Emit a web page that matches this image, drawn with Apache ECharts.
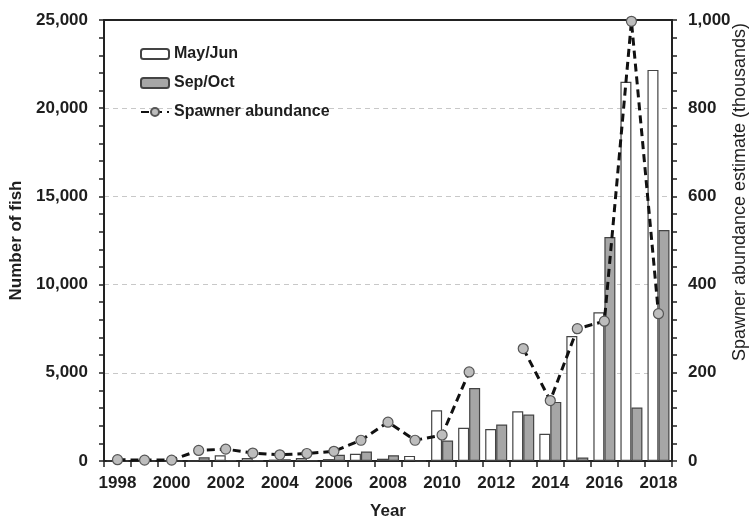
<!DOCTYPE html>
<html>
<head>
<meta charset="utf-8">
<script src="https://cdn.jsdelivr.net/npm/echarts@6/dist/echarts.min.js"></script>
<style>html,body{margin:0;padding:0;background:#fff}#c{width:749px;height:525px}</style>
</head>
<body>
<div id="c"></div>
<script>
var years = ['1998','1999','2000','2001','2002','2003','2004','2005','2006','2007','2008','2009','2010','2011','2012','2013','2014','2015','2016','2017','2018'];
var mayJun = [0,0,0,0,320,170,80,170,110,410,130,290,2870,1880,1810,2820,1540,7090,8430,21500,22170];
var sepOct = [0,0,0,210,50,50,100,30,350,540,330,0,1160,4140,2070,2630,3350,200,12700,3030,13090];
var spawner = [3,2,2,24,27,18,14,17,22,47,88,47,59,202,null,255,137,300,317,997,334];
var leftTicks = {min:0, max:25000, interval:5000};
var rightTicks = {min:0, max:1000, interval:200};

var FONT = 'Liberation Sans';
var TXT = '#1e1e1e';
var chart = echarts.init(document.getElementById('c'), null, {renderer:'canvas'});
chart.setOption({
  animation:false,
  backgroundColor:'#fff',
  textStyle:{fontFamily:FONT},
  grid:{left:104, right:77, top:20, bottom:62, containLabel:false},
  legend:{
    orient:'vertical', left:135, top:41, itemWidth:28, itemHeight:10, itemGap:13,
    textStyle:{fontFamily:FONT, fontWeight:'bold', fontSize:16, color:TXT},
    data:['May/Jun','Sep/Oct','Spawner abundance']
  },
  xAxis:[{
    type:'category', data:years, position:'bottom',
    name:'Year', nameLocation:'middle', nameGap:42,
    nameTextStyle:{fontFamily:FONT, fontWeight:'bold', fontSize:17, color:TXT},
    axisLine:{lineStyle:{color:'#222', width:2}},
    axisTick:{show:true, interval:0, length:6, lineStyle:{color:'#222', width:1.5}},
    axisLabel:{interval:1, margin:14, fontFamily:FONT, fontWeight:'bold', fontSize:17, color:TXT}
  },{
    type:'category', data:years, position:'top', z:5,
    axisLine:{onZero:false, lineStyle:{color:'#222', width:2}},
    axisTick:{show:false}, axisLabel:{show:false}
  }],
  yAxis:[{
    type:'value', min:leftTicks.min, max:leftTicks.max, interval:leftTicks.interval,
    name:'Number of fish', nameLocation:'middle', nameGap:74,
    nameTextStyle:{fontFamily:FONT, fontWeight:'bold', fontSize:17, color:TXT},
    axisLine:{show:true, lineStyle:{color:'#222', width:2}},
    axisTick:{show:true, length:5, lineStyle:{color:'#222', width:1.5}},
    minorTick:{show:true, splitNumber:5, length:5, lineStyle:{color:'#222', width:1.5}},
    axisLabel:{margin:16, fontFamily:FONT, fontWeight:'bold', fontSize:17, color:TXT},
    splitLine:{show:true, showMinLine:false, showMaxLine:false, lineStyle:{color:'#c8c8c8', type:[5,4], width:1}}
  },{
    type:'value', min:rightTicks.min, max:rightTicks.max, interval:rightTicks.interval, position:'right',
    axisLine:{show:true, lineStyle:{color:'#222', width:2}},
    axisTick:{show:true, length:5, lineStyle:{color:'#222', width:1.5}},
    minorTick:{show:true, splitNumber:5, length:5, lineStyle:{color:'#222', width:1.5}},
    axisLabel:{margin:16, fontFamily:FONT, fontWeight:'bold', fontSize:17, color:TXT},
    splitLine:{show:false}
  }],
  graphic:[{
    type:'text', x:740, y:192, rotation:Math.PI/2,
    style:{text:'Spawner abundance estimate (thousands)', font:'18px "Liberation Sans"', fill:TXT, align:'center', verticalAlign:'middle'}
  }],
  series:[{
    name:'May/Jun', type:'bar', data:mayJun, barWidth:11, barGap:'0%',
    itemStyle:{color:'#ffffff', borderColor:'#444', borderWidth:1.2}
  },{
    name:'Sep/Oct', type:'bar', data:sepOct, barWidth:11, barGap:'0%',
    itemStyle:{color:'#a6a6a6', borderColor:'#444', borderWidth:1.2}
  },{
    name:'Spawner abundance', type:'line', yAxisIndex:1, data:spawner, connectNulls:false,
    symbol:'circle', symbolSize:10,
    lineStyle:{color:'#111', width:3, type:[8,5]},
    itemStyle:{color:'#bdbdbd', borderColor:'#555', borderWidth:1.2},
    z:5
  }]
});
</script>
</body>
</html>
